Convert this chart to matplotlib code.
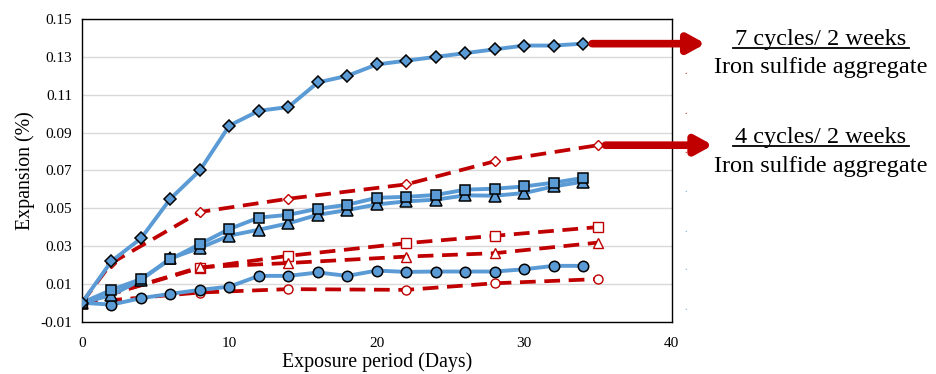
import matplotlib.pyplot as plt

# exposure days for the 2-day readings
days = [0, 2, 4, 6, 8, 10, 12, 14, 16, 18, 20, 22, 24, 26, 28, 30, 32, 34]

# 7 cycles / 2 weeks (blue, solid)
blue_diamond = [0.0, 0.022, 0.034, 0.055, 0.070, 0.0937, 0.1015, 0.1035, 0.1165,
                0.120, 0.126, 0.128, 0.130, 0.132, 0.134, 0.136, 0.136, 0.137]
blue_square = [0.0, 0.0068, 0.0125, 0.023, 0.031, 0.039, 0.045, 0.0465, 0.0497,
               0.0518, 0.0555, 0.056, 0.057, 0.0598, 0.0603, 0.0615, 0.0635, 0.066]
blue_triangle = [0.0, 0.004, 0.012, 0.0235, 0.029, 0.0355, 0.0386, 0.042, 0.0465,
                 0.049, 0.052, 0.0536, 0.0545, 0.0568, 0.0566, 0.058, 0.0615, 0.064]
blue_circle = [0.0, -0.001, 0.0024, 0.0047, 0.0068, 0.0085, 0.0142, 0.0142, 0.016,
               0.0142, 0.017, 0.0163, 0.0165, 0.0165, 0.0165, 0.0177, 0.0195, 0.0195]

# 4 cycles / 2 weeks (red, dashed)
red_days_diamond = [0, 2, 8, 14, 22, 28, 35]
red_diamond = [0.0, 0.021, 0.048, 0.055, 0.0626, 0.0748, 0.0833]
red_days = [0, 8, 14, 22, 28, 35]
red_square = [0.0, 0.0184, 0.0248, 0.0315, 0.0354, 0.040]
red_triangle = [0.0, 0.0188, 0.021, 0.0244, 0.0262, 0.0318]
red_circle = [0.0, 0.0054, 0.0072, 0.0068, 0.0103, 0.0125]

blue = "#5B9BD5"
red = "#C00000"

plt.rcParams["font.family"] = ["Liberation Serif", "DejaVu Serif"]

fig = plt.figure(figsize=(9.36, 3.74), dpi=100)
ax = fig.add_axes([0.0876, 0.140, 0.630, 0.809])

# red dashed series first (behind)
for x, y, m in [(red_days_diamond, red_diamond, "D"), (red_days, red_square, "s"),
                (red_days, red_triangle, "^"), (red_days, red_circle, "o")]:
    ax.plot(x, y, color=red, linestyle=(0, (4.2, 2.3)), linewidth=2.7,
            marker=m, markersize=6.5 if m != "D" else 5.5, markerfacecolor="white",
            markeredgecolor=red, markeredgewidth=1.0, zorder=2)

# blue solid series
for y, m, ms in [(blue_circle, "o", 7.5), (blue_triangle, "^", 8),
                 (blue_square, "s", 7.5), (blue_diamond, "D", 6)]:
    ax.plot(days, y, color=blue, linewidth=2.8, marker=m, markersize=ms,
            markerfacecolor=blue, markeredgecolor="black", markeredgewidth=1.1,
            zorder=3)

ax.set_xlim(0, 40)
ax.set_ylim(-0.01, 0.15)
ax.set_xticks([0, 10, 20, 30, 40])
ax.set_yticks([-0.01, 0.01, 0.03, 0.05, 0.07, 0.09, 0.11, 0.13, 0.15])
ax.set_yticklabels(["-0.01", "0.01", "0.03", "0.05", "0.07", "0.09", "0.11", "0.13", "0.15"])
ax.tick_params(length=0, labelsize=11)
ax.tick_params(axis="x", pad=11)
ax.tick_params(axis="y", pad=7)
ax.yaxis.grid(True, color="#D9D9D9", linewidth=1.0)
ax.set_axisbelow(True)
for s in ax.spines.values():
    s.set_linewidth(1.0)
ax.set_xlabel("Exposure period (Days)", fontsize=14.3, labelpad=2)
ax.set_ylabel("Expansion (%)", fontsize=14.3, labelpad=4)

# arrows pointing to the annotations
for y0, x0, x1 in [(0.137, 34.6, 42.3), (0.0833, 35.5, 42.8)]:
    ax.annotate("", xy=(x1, y0), xytext=(x0, y0), xycoords="data",
                annotation_clip=False,
                arrowprops=dict(arrowstyle="-|>,head_length=1.0,head_width=0.55",
                                color=red, linewidth=5.5, shrinkA=0, shrinkB=0))

# leftover legend dots
for i, yy in enumerate([33, 72, 111, 150, 190, 229, 268, 308]):
    fig.text(686 / 936, 1 - yy / 374, ".", color=red if i < 4 else blue,
             fontsize=7, ha="center", va="center")

fig.text(821 / 936, 1 - 45 / 374, "7 cycles/ 2 weeks", fontsize=17.5,
         ha="center", va="baseline")
fig.text(821 / 936, 1 - 73 / 374, "Iron sulfide aggregate", fontsize=17.5,
         ha="center", va="baseline")
fig.text(821 / 936, 1 - 143 / 374, "4 cycles/ 2 weeks", fontsize=17.5,
         ha="center", va="baseline")
fig.text(821 / 936, 1 - 172 / 374, "Iron sulfide aggregate", fontsize=17.5,
         ha="center", va="baseline")
# underlines
fig.add_artist(plt.Line2D([733 / 936, 909 / 936], [1 - 47.5 / 374, 1 - 47.5 / 374],
                          color="black", linewidth=1.3))
fig.add_artist(plt.Line2D([733 / 936, 909 / 936], [1 - 145.5 / 374, 1 - 145.5 / 374],
                          color="black", linewidth=1.3))

fig.savefig("out.png", dpi=100)
